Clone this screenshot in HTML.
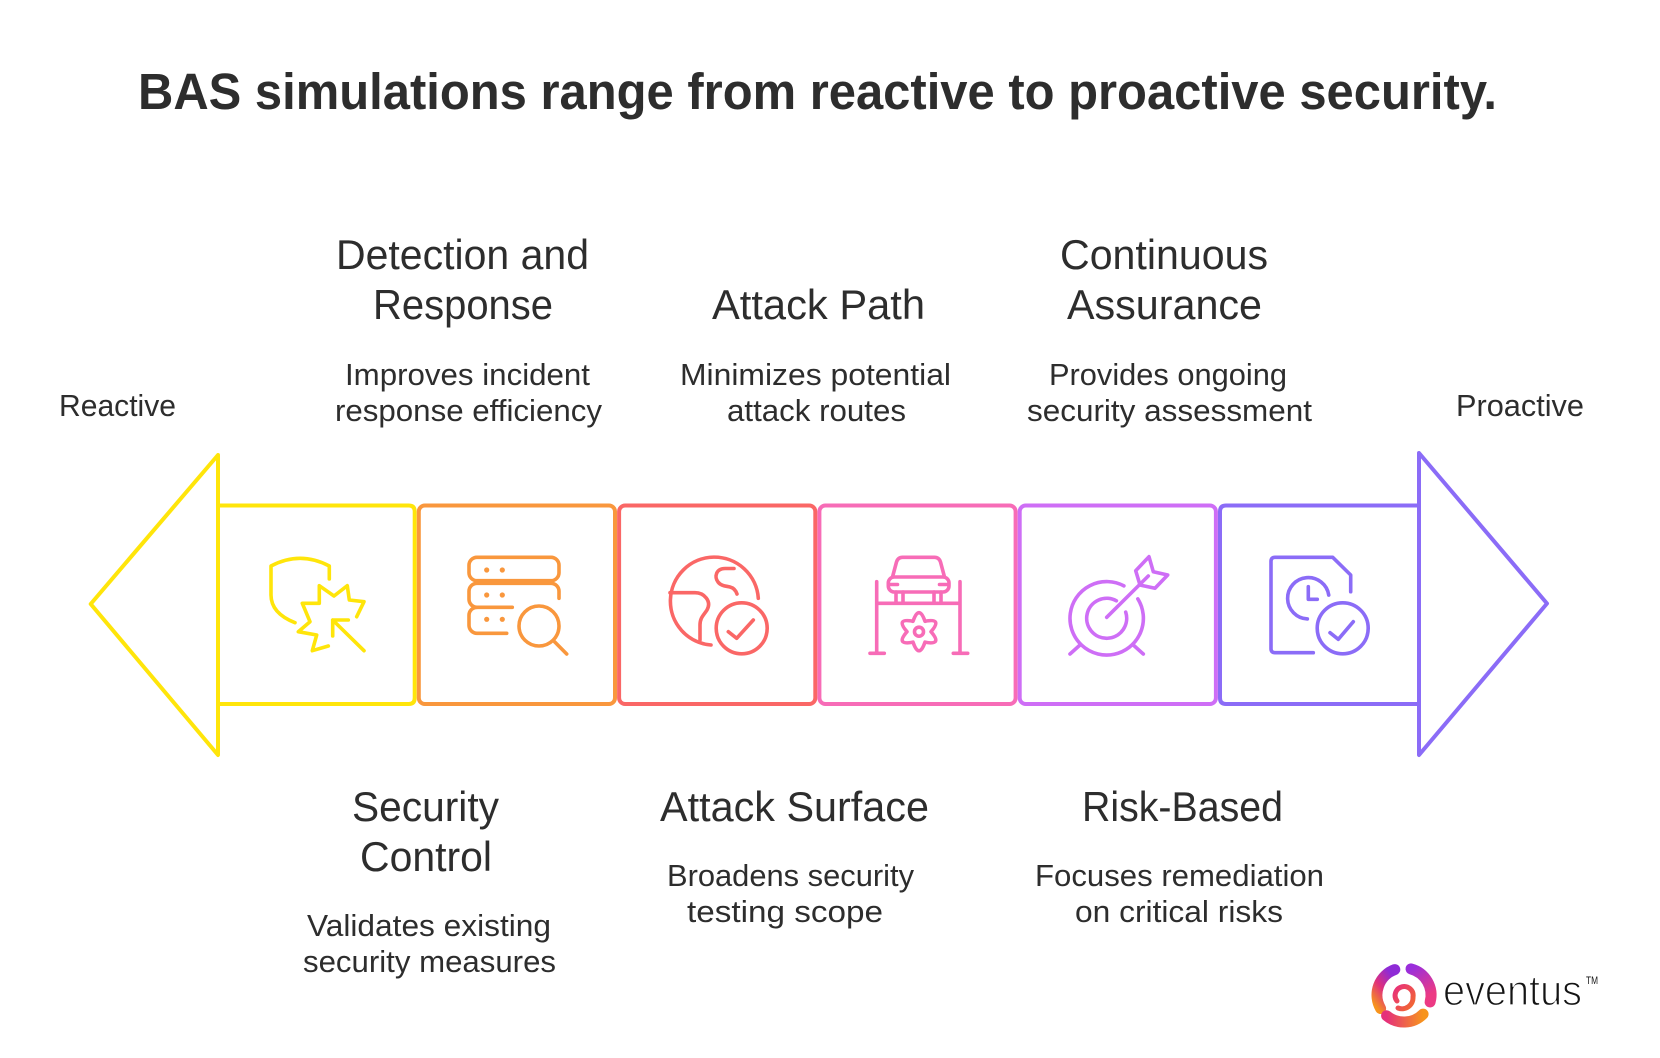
<!DOCTYPE html>
<html>
<head>
<meta charset="utf-8">
<style>
  html,body{margin:0;padding:0;background:#ffffff;}
  svg{display:block;}
  .t{font-family:"Liberation Sans",Arial,sans-serif;fill:#2d2d2d;}
  .h{font-size:42px;}
  .d{font-size:31px;}
  .ic{fill:none;stroke-width:3.6;stroke-linecap:round;stroke-linejoin:round;}
</style>
</head>
<body>
<svg width="1660" height="1058" viewBox="0 0 1660 1058" xmlns="http://www.w3.org/2000/svg">
  <defs>
    <linearGradient id="gA" x1="0" y1="1" x2="0.6" y2="0">
      <stop offset="0" stop-color="#F7941D"/>
      <stop offset="0.5" stop-color="#E0307A"/>
      <stop offset="1" stop-color="#8E2BD6"/>
    </linearGradient>
    <linearGradient id="gB" x1="0" y1="0" x2="0.4" y2="1">
      <stop offset="0" stop-color="#9A2EDB"/>
      <stop offset="1" stop-color="#EC3A84"/>
    </linearGradient>
    <linearGradient id="gC" x1="1" y1="0" x2="0" y2="0">
      <stop offset="0" stop-color="#F7941D"/>
      <stop offset="1" stop-color="#E5307A"/>
    </linearGradient>
    <linearGradient id="gD" x1="0" y1="0" x2="1" y2="1">
      <stop offset="0" stop-color="#E8307A"/>
      <stop offset="1" stop-color="#F26A2E"/>
    </linearGradient>
  </defs>

  <!-- Title -->
  <text class="t" x="138" y="109" font-size="51" font-weight="bold" fill="#2a2a2a" textLength="1359" lengthAdjust="spacingAndGlyphs">BAS simulations range from reactive to proactive security.</text>

  <!-- Side labels -->
  <text class="t d" x="59" y="416" textLength="117" lengthAdjust="spacingAndGlyphs">Reactive</text>
  <text class="t d" x="1456" y="416" textLength="128" lengthAdjust="spacingAndGlyphs">Proactive</text>

  <!-- Top headings -->
  <text class="t h" x="336" y="269" textLength="253" lengthAdjust="spacingAndGlyphs">Detection and</text>
  <text class="t h" x="373" y="319" textLength="180" lengthAdjust="spacingAndGlyphs">Response</text>
  <text class="t d" x="345" y="385" textLength="245" lengthAdjust="spacingAndGlyphs">Improves incident</text>
  <text class="t d" x="335" y="421" textLength="267" lengthAdjust="spacingAndGlyphs">response efficiency</text>

  <text class="t h" x="712" y="319" textLength="213" lengthAdjust="spacingAndGlyphs">Attack Path</text>
  <text class="t d" x="680" y="385" textLength="271" lengthAdjust="spacingAndGlyphs">Minimizes potential</text>
  <text class="t d" x="727" y="421" textLength="179" lengthAdjust="spacingAndGlyphs">attack routes</text>

  <text class="t h" x="1060" y="269" textLength="208" lengthAdjust="spacingAndGlyphs">Continuous</text>
  <text class="t h" x="1067" y="319" textLength="195" lengthAdjust="spacingAndGlyphs">Assurance</text>
  <text class="t d" x="1049" y="385" textLength="238" lengthAdjust="spacingAndGlyphs">Provides ongoing</text>
  <text class="t d" x="1027" y="421" textLength="285" lengthAdjust="spacingAndGlyphs">security assessment</text>

  <!-- Bottom headings -->
  <text class="t h" x="352" y="821" textLength="147" lengthAdjust="spacingAndGlyphs">Security</text>
  <text class="t h" x="360" y="871" textLength="132" lengthAdjust="spacingAndGlyphs">Control</text>
  <text class="t d" x="307" y="936" textLength="244" lengthAdjust="spacingAndGlyphs">Validates existing</text>
  <text class="t d" x="303" y="972" textLength="253" lengthAdjust="spacingAndGlyphs">security measures</text>

  <text class="t h" x="660" y="821" textLength="269" lengthAdjust="spacingAndGlyphs">Attack Surface</text>
  <text class="t d" x="667" y="886" textLength="247" lengthAdjust="spacingAndGlyphs">Broadens security</text>
  <text class="t d" x="687" y="922" textLength="196" lengthAdjust="spacingAndGlyphs">testing scope</text>

  <text class="t h" x="1082" y="821" textLength="201" lengthAdjust="spacingAndGlyphs">Risk-Based</text>
  <text class="t d" x="1035" y="886" textLength="289" lengthAdjust="spacingAndGlyphs">Focuses remediation</text>
  <text class="t d" x="1075" y="922" textLength="208" lengthAdjust="spacingAndGlyphs">on critical risks</text>

  <!-- Arrowheads -->
  <path d="M218 455 L90.7 604 L218 755 Z" fill="none" stroke="#FFE50A" stroke-width="4" stroke-linejoin="round"/>
  <path d="M1419 453 L1547 603.5 L1419 755 Z" fill="none" stroke="#8B6CF7" stroke-width="4" stroke-linejoin="round"/>

  <!-- Boxes -->
  <path d="M218 505.5 H408.7 Q414.7 505.5 414.7 511.5 V698 Q414.7 704 408.7 704 H218 Z" fill="none" stroke="#FFE50A" stroke-width="4" stroke-linejoin="round"/>
  <rect x="418.8" y="505.5" width="196.2" height="198.5" rx="6" fill="none" stroke="#F9973D" stroke-width="4"/>
  <rect x="619.1" y="505.5" width="196.2" height="198.5" rx="6" fill="none" stroke="#FA6766" stroke-width="4"/>
  <rect x="819.4" y="505.5" width="196.2" height="198.5" rx="6" fill="none" stroke="#F76CB7" stroke-width="4"/>
  <rect x="1019.7" y="505.5" width="196.2" height="198.5" rx="6" fill="none" stroke="#CE6EF6" stroke-width="4"/>
  <path d="M1419 505.5 H1226 Q1220 505.5 1220 511.5 V698 Q1220 704 1226 704 H1419 Z" fill="none" stroke="#8B6CF7" stroke-width="4" stroke-linejoin="round"/>

  <!-- Icon 1: shield + burst + cursor (yellow) -->
  <g transform="translate(266.5,555)" class="ic" stroke="#FFE50A">
    <path d="M28.5 67.7 C14 62 4.5 53 4.5 40 V11 Q33.6 -4.4 62.8 11 V24"/>
    <polyline points="61.8,91 45.8,95.7 50.2,80 31.8,76.7 43.5,66.7 35.8,48.3 52.8,48.3 52.8,30.7 67.5,41 80.8,30.7 82.8,45 97.5,46.7 90.2,61.7"/>
    <path d="M97.5 95.7 L66.2 65 M66.2 81 V65 H81.8"/>
  </g>

  <!-- Icon 2: server + magnifier (orange) -->
  <g transform="translate(467.5,555)" class="ic" stroke="#F9973D">
    <rect x="1.5" y="2.3" width="90" height="23.4" rx="8"/>
    <path d="M44.8 52.3 H9.5 A8 8 0 0 1 1.5 44.3 V36.3 A8 8 0 0 1 9.5 28.3 H83.5 A8 8 0 0 1 91.5 36.3 V43.3"/>
    <path d="M39.2 78.3 H9.5 A8 8 0 0 1 1.5 70.3 V60.3 A8 8 0 0 1 9.5 52.3"/>
    <circle cx="71.5" cy="71" r="20"/>
    <path d="M86.3 86 L99.2 99"/>
    <g fill="#F9973D" stroke="none">
      <circle cx="19.2" cy="15" r="2.6"/><circle cx="34.8" cy="15" r="2.6"/>
      <circle cx="19.2" cy="40" r="2.6"/><circle cx="34.8" cy="40" r="2.6"/>
      <circle cx="19.2" cy="64.3" r="2.6"/><circle cx="34.8" cy="64.3" r="2.6"/>
    </g>
  </g>

  <!-- Icon 3: globe + check (coral) -->
  <g transform="translate(668,555)" class="ic" stroke="#FA6766">
    <path d="M90.3 43.3 A44 44 0 1 0 43 90"/>
    <path d="M2 37.7 H27 C36 37.7 44 46 39 55 C35 61 32 63 32 70 V85"/>
    <path d="M66 13.5 H57 C48 13.5 46 22 50 27 C53 31 58 31 62 32 C66 33 68 36 69 39"/>
    <circle cx="73.7" cy="73.3" r="25.5"/>
    <path d="M60.3 76.7 L68.7 83.3 L85.3 65"/>
  </g>

  <!-- Icon 4: car lift + gear (pink) -->
  <g transform="translate(868.5,555)" class="ic" stroke="#F76CB7">
    <path d="M8.2 26.7 V98.3 M1.5 98.3 H15.8 M91.5 26.7 V98.3 M84.8 98.3 H99.2 M8.2 48.3 H91.5"/>
    <path d="M24 22 L28 7 Q29.5 2.3 34 2.3 H66 Q70.5 2.3 72 7 L76 22"/>
    <rect x="19.8" y="22" width="60.7" height="15" rx="6"/>
    <path d="M22 29.5 H29 M71 29.5 H78"/>
    <path d="M27.5 37 V48 M34.5 37 V48 M65.5 37 V48 M72.5 37 V48"/>
    <path d="M44.5 66.3 Q50.5 49 56.5 66.3 Q74.5 62.8 62.5 76.7 Q74.5 90.6 56.5 87.1 Q50.5 104.4 44.5 87.1 Q26.5 90.6 38.5 76.7 Q26.5 62.8 44.5 66.3 Z"/>
    <circle cx="50.5" cy="76.7" r="4.5"/>
  </g>

  <!-- Icon 5: target + arrow (purple) -->
  <g transform="translate(1069,555)" class="ic" stroke="#CE6EF6">
    <path d="M68.8 43.85 A36.7 36.7 0 1 1 54.9 30.9"/>
    <path d="M56.7 57.1 A20 20 0 1 1 47.4 45.8"/>
    <path d="M37.7 62.3 L79.3 21"/>
    <polygon points="66.7,15.7 80,1.7 84.3,16.7 98.7,20 86,33.3 71,30"/>
    <path d="M1 99 L11 90 M74.3 99 L64.3 90"/>
  </g>

  <!-- Icon 6: document + clock + check (violet) -->
  <g transform="translate(1269.5,555)" class="ic" stroke="#8B6CF7">
    <path d="M43.8 97.7 H5.5 Q1.5 97.7 1.5 93.7 V6.3 Q1.5 2.3 5.5 2.3 H63.2 L81.2 20 V36.7"/>
    <path d="M59.25 40.06 A20.7 20.7 0 1 0 37.86 63.98"/>
    <path d="M38.8 31.7 V44.3 H47.8"/>
    <circle cx="73.2" cy="73.3" r="25.5"/>
    <path d="M60.5 77.7 L68.8 84.3 L83.8 66.7"/>
  </g>

  <!-- Logo -->
  <g fill="none" stroke-linecap="round">
    <path d="M1380.6 1008.5 A27 27 0 0 1 1394.8 969.6" stroke="url(#gA)" stroke-width="11"/>
    <path d="M1411 968.9 A27 27 0 0 1 1430.1 1002" stroke="url(#gB)" stroke-width="11"/>
    <path d="M1423.1 1014.1 A27 27 0 0 1 1386.6 1015.7" stroke="url(#gC)" stroke-width="11"/>
    <path d="M1397 1001 A9 9 0 1 1 1413 997 A11 11 0 0 1 1398 1008" stroke="url(#gD)" stroke-width="5"/>
  </g>
  <text x="1443" y="1005" font-family="'Liberation Sans',Arial,sans-serif" font-size="43" fill="#141414" stroke="#ffffff" stroke-width="1.3" textLength="139" lengthAdjust="spacingAndGlyphs">eventus</text>
  <text x="1586" y="984" font-family="'Liberation Sans',Arial,sans-serif" font-size="11" fill="#141414" textLength="12" lengthAdjust="spacingAndGlyphs">TM</text>
</svg>
</body>
</html>
